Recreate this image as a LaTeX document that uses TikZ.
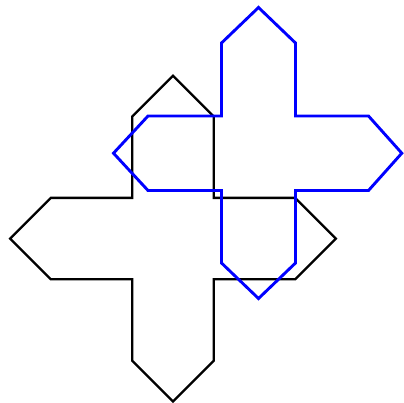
\documentclass[tikz,border=0pt]{standalone}
\begin{document}
\begin{tikzpicture}[x=1pt,y=-1pt,
  crossline/.style={line width=2.3pt,line join=miter},
  blackcross/.style={crossline,draw=black},
  bluecross/.style={crossline,draw=blue,line width=2.9pt}]
\useasboundingbox (0,0) rectangle (404,403);
\def\crosspath{(1,1) -- (1,3) -- (0,4) -- (-1,3) -- (-1,1) -- (-3,1) -- (-4,0) -- (-3,-1) -- (-1,-1) -- (-1,-3) -- (0,-4) -- (1,-3) -- (1,-1) -- (3,-1) -- (4,0) -- (3,1) -- cycle}
\begin{scope}[shift={(173,238.6)},x=40.7pt,y=-40.7pt]
  \draw[blackcross] \crosspath;
\end{scope}
\draw[bluecross] (221.5,116) -- (221.5,43) -- (258.5,7.5) -- (295.5,43) -- (295.5,116)
  -- (368.5,116) -- (401.8,153.2) -- (368.5,190.5) -- (295.5,190.5)
  -- (295.5,263) -- (258.5,298.5) -- (221.5,263) -- (221.5,190.5)
  -- (148,190.5) -- (113.5,153.2) -- (148,116) -- cycle;
\end{tikzpicture}
\end{document}
